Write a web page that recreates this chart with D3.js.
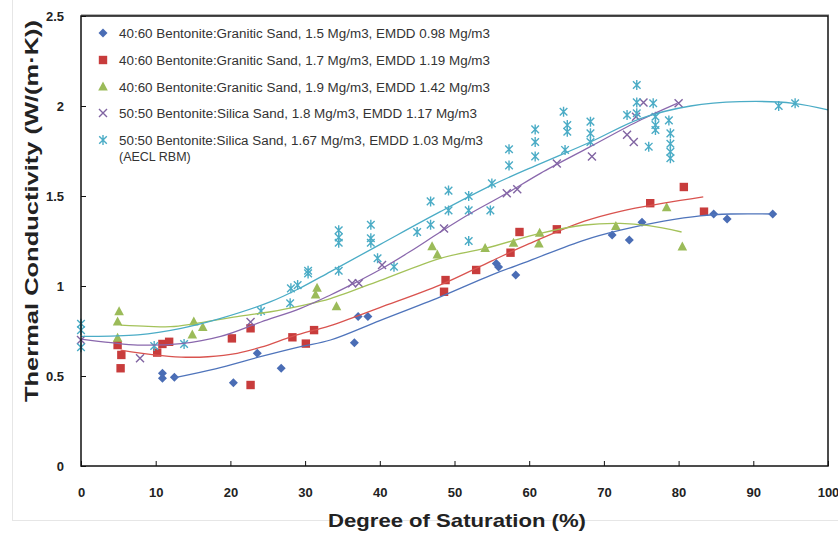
<!DOCTYPE html>
<html><head><meta charset="utf-8">
<script src="https://cdn.jsdelivr.net/npm/d3@7"></script>
<style>body{margin:0;background:#fff}svg{display:block}</style>
</head><body><svg id="c" width="838" height="535"></svg>
<script>
// ---- data ----
const xTicks = [0,10,20,30,40,50,60,70,80,90,100];
const yTicks = [0,0.5,1,1.5,2,2.5];
const yTickLabels = ["0","0.5","1","1.5","2","2.5"];

const blueSat = [10.9,10.9,12.5,20.4,23.6,26.8,36.6,37.1,38.4,55.6,55.9,58.2,71.1,73.4,75.1,84.7,86.5,92.6];
const blueTC  = [0.515,0.487,0.493,0.463,0.626,0.543,0.685,0.83,0.83,1.125,1.105,1.061,1.283,1.256,1.354,1.40,1.372,1.40];

const redSat = [4.9,5.4,5.3,10.2,10.9,11.8,20.2,22.7,22.7,28.3,30.1,31.2,48.6,48.8,52.9,57.5,58.7,63.7,76.2,80.7,83.4];
const redTC  = [0.672,0.617,0.543,0.63,0.678,0.69,0.709,0.45,0.765,0.715,0.68,0.755,0.968,1.033,1.089,1.185,1.30,1.315,1.46,1.55,1.413];

const greenSat = [5.1,4.9,4.9,14.9,15.1,16.3,31.4,31.6,34.2,47.0,47.7,54.1,57.9,61.3,61.4,71.6,78.4,80.5];
const greenTC  = [0.857,0.80,0.71,0.728,0.80,0.77,0.95,0.987,0.885,1.218,1.172,1.209,1.237,1.233,1.293,1.33,1.435,1.217];

const purpleSat = [0,7.9,22.7,36.3,37.2,40.3,48.6,57.0,58.4,63.7,68.4,73.1,74.0,74.3,75.3,80.0];
const purpleTC  = [0.70,0.598,0.80,1.015,1.015,1.117,1.32,1.515,1.537,1.68,1.72,1.84,1.80,1.94,2.02,2.015];

const cyanSat = [0,0,0,9.8,13.8,24.1,28.0,28.1,29.0,30.4,30.4,34.5,34.5,34.5,34.5,38.8,38.8,38.8,39.7,41.9,45.0,46.8,46.8,49.2,49.2,51.9,51.9,51.9,54.8,55.0,57.3,57.3,60.8,60.8,60.8,64.6,64.8,65.1,65.1,68.2,68.2,68.2,73.1,74.4,74.4,74.4,76.0,76.6,76.9,76.9,76.9,78.7,78.9,78.9,78.9,78.9,93.4,95.6];
const cyanTC  = [0.79,0.755,0.66,0.667,0.678,0.861,0.904,0.987,1.005,1.07,1.085,1.31,1.27,1.24,1.085,1.34,1.265,1.24,1.154,1.107,1.30,1.34,1.47,1.42,1.53,1.42,1.50,1.25,1.42,1.57,1.67,1.76,1.72,1.80,1.87,1.968,1.756,1.894,1.857,1.913,1.848,1.80,1.95,2.117,2.02,1.96,1.774,2.015,1.94,1.894,1.867,1.92,1.848,1.79,1.746,1.71,2.0,2.015];

// trend lines
const blueTrendX = [12.4,18,24,29.4,33.4,40,48.1,55,60,67.4,72.2,78,82.9,87,92.6];
const blueTrendY = [0.49,0.54,0.607,0.663,0.70,0.808,0.94,1.062,1.14,1.255,1.31,1.36,1.39,1.40,1.40];
const redTrendX = [5.3,9.8,13.4,17,20.9,24.1,28.3,31.2,33.4,40,48.1,55,60,67.4,72.2,78,83.3];
const redTrendY = [0.644,0.617,0.605,0.607,0.626,0.66,0.72,0.755,0.78,0.88,1.006,1.14,1.235,1.36,1.415,1.46,1.495];
const greenTrendX = [5.3,9,12,15.1,20.9,25.4,29.4,33.4,40,48.1,54.1,61.5,67.4,72.2,76,80.4];
const greenTrendY = [0.783,0.776,0.774,0.79,0.83,0.857,0.89,0.93,1.03,1.154,1.209,1.293,1.339,1.348,1.335,1.30];
const purpleTrendX = [0,4,7.6,13.4,18.7,24.1,29.4,33.4,36.8,40,44,48.1,52,57,61.5,68,74.9,79.8];
const purpleTrendY = [0.705,0.685,0.672,0.68,0.72,0.80,0.876,0.95,1.02,1.09,1.19,1.30,1.40,1.515,1.626,1.77,1.922,2.015];
const cyanTrendX = [0,4,7.6,13.4,18.7,25.4,29.4,33.4,40,48.1,55,61.5,68.2,74.9,81.6,88.2,95.4,100];
const cyanTrendY = [0.72,0.722,0.728,0.765,0.82,0.913,0.99,1.08,1.23,1.413,1.56,1.68,1.80,1.93,2.0,2.024,2.015,1.978];

const legendLabels = [
  "40:60 Bentonite:Granitic Sand, 1.5 Mg/m3, EMDD 0.98 Mg/m3",
  "40:60 Bentonite:Granitic Sand, 1.7 Mg/m3, EMDD 1.19 Mg/m3",
  "40:60 Bentonite:Granitic Sand, 1.9 Mg/m3, EMDD 1.42 Mg/m3",
  "50:50 Bentonite:Silica Sand, 1.8 Mg/m3, EMDD 1.17 Mg/m3",
  "50:50 Bentonite:Silica Sand, 1.67 Mg/m3, EMDD 1.03 Mg/m3"
];
const legendExtra = "(AECL RBM)";

// ---- chart ----
const svg = d3.select("#c");
const L = 81, R = 828, T = 16, B = 466;
const x = d3.scaleLinear().domain([0,100]).range([L,R]);
const y = d3.scaleLinear().domain([0,2.5]).range([B,T]);

// faint outer chart border
svg.append("rect").attr("x",12.5).attr("y",-2).attr("width",840).attr("height",522.5)
  .attr("fill","none").attr("stroke","#e6e6e6");

const series = [
  {sx:blueSat, sy:blueTC, tx:blueTrendX, ty:blueTrendY, col:"#4a6db5", line:"#4f74bb", shape:"diamond"},
  {sx:redSat, sy:redTC, tx:redTrendX, ty:redTrendY, col:"#c83c3c", line:"#d9534f", shape:"square"},
  {sx:greenSat, sy:greenTC, tx:greenTrendX, ty:greenTrendY, col:"#9bbb59", line:"#a4c25a", shape:"triangle"},
  {sx:purpleSat, sy:purpleTC, tx:purpleTrendX, ty:purpleTrendY, col:"#8064a2", line:"#8a68ad", shape:"x"},
  {sx:cyanSat, sy:cyanTC, tx:cyanTrendX, ty:cyanTrendY, col:"#4bacc6", line:"#4bacc6", shape:"star"}
];

function drawMarker(g, shape, cx, cy, col){
  const s = 4.5;
  if(shape==="diamond"){
    g.append("path").attr("d",`M${cx},${cy-s}L${cx+s},${cy}L${cx},${cy+s}L${cx-s},${cy}Z`).attr("fill",col);
  } else if(shape==="square"){
    g.append("rect").attr("x",cx-4.2).attr("y",cy-4.2).attr("width",8.4).attr("height",8.4).attr("fill",col);
  } else if(shape==="triangle"){
    g.append("path").attr("d",`M${cx},${cy-5.5}L${cx+4.8},${cy+3.5}L${cx-4.8},${cy+3.5}Z`).attr("fill",col);
  } else if(shape==="x"){
    g.append("path").attr("d",`M${cx-4},${cy-4}L${cx+4},${cy+4}M${cx-4},${cy+4}L${cx+4},${cy-4}`)
      .attr("stroke",col).attr("stroke-width",1.4).attr("fill","none");
  } else {
    g.append("path").attr("d",`M${cx-3.8},${cy-3.8}L${cx+3.8},${cy+3.8}M${cx-3.8},${cy+3.8}L${cx+3.8},${cy-3.8}M${cx},${cy-5}L${cx},${cy+5}`)
      .attr("stroke",col).attr("stroke-width",1.4).attr("fill","none");
  }
}

const gM = svg.append("g");
series.forEach(s=>{
  s.sx.forEach((v,i)=> drawMarker(gM, s.shape, x(v), y(s.sy[i]), s.col));
});
const line = d3.line().x(d=>x(d[0])).y(d=>y(d[1])).curve(d3.curveCatmullRom);
series.forEach(s=>{
  svg.append("path").datum(s.tx.map((v,i)=>[v,s.ty[i]]))
    .attr("d",line).attr("fill","none").attr("stroke",s.line).attr("stroke-width",1.3);
});

// frame with slight shadow
svg.append("line").attr("x1",L).attr("x2",R+1).attr("y1",T-1).attr("y2",T-1).attr("stroke","#9a9a9a").attr("stroke-width",1.5);
svg.append("rect").attr("x",L).attr("y",T).attr("width",R-L).attr("height",B-T)
  .attr("fill","none").attr("stroke","#111").attr("stroke-width",1.5);

// axes with inward ticks
const xAxis = d3.axisBottom(x).tickValues(xTicks).tickSize(-5).tickFormat(d3.format("d")).tickPadding(22);
const gx = svg.append("g").attr("transform",`translate(0,${B})`).call(xAxis);
gx.select(".domain").remove();
gx.selectAll("line").attr("stroke","#111");
gx.selectAll("text").attr("font-family","Liberation Sans, Arial, sans-serif").attr("font-size",13).attr("font-weight","bold").attr("fill","#222");

const yAxis = d3.axisLeft(y).tickValues(yTicks).tickSize(-5).tickFormat((d,i)=>yTickLabels[i]).tickPadding(17);
const gy = svg.append("g").attr("transform",`translate(${L},0)`).call(yAxis);
gy.select(".domain").remove();
gy.selectAll("line").attr("stroke","#111");
gy.selectAll("text").attr("font-family","Liberation Sans, Arial, sans-serif").attr("font-size",13).attr("font-weight","bold").attr("fill","#222");

// axis titles
svg.append("text").attr("x",457).attr("y",527).attr("text-anchor","middle")
  .attr("font-family","Liberation Sans, Arial, sans-serif").attr("font-size",19).attr("font-weight","bold")
  .attr("fill","#222").attr("textLength",258).attr("lengthAdjust","spacingAndGlyphs")
  .text("Degree of Saturation (%)");
svg.append("text").attr("transform","translate(38,211) rotate(-90)").attr("text-anchor","middle")
  .attr("font-family","Liberation Sans, Arial, sans-serif").attr("font-size",18).attr("font-weight","bold")
  .attr("fill","#222").attr("textLength",382).attr("lengthAdjust","spacingAndGlyphs")
  .text("Thermal Conductivity (W/(m·K))");

// legend
const legY = [33,60,87,113,140];
const legW = [371,371,371,358,364];
const gL = svg.append("g");
series.forEach((s,i)=>{
  drawMarker(gL, s.shape, 103, legY[i], s.col);
  gL.append("text").attr("x",119).attr("y",legY[i]+4.5)
    .attr("font-family","Liberation Sans, Arial, sans-serif").attr("font-size",12.5)
    .attr("fill","#333").attr("textLength",legW[i]).attr("lengthAdjust","spacingAndGlyphs")
    .text(legendLabels[i]);
});
gL.append("text").attr("x",119).attr("y",legY[4]+21)
  .attr("font-family","Liberation Sans, Arial, sans-serif").attr("font-size",12.5)
  .attr("fill","#333").text(legendExtra);
</script></body></html>
